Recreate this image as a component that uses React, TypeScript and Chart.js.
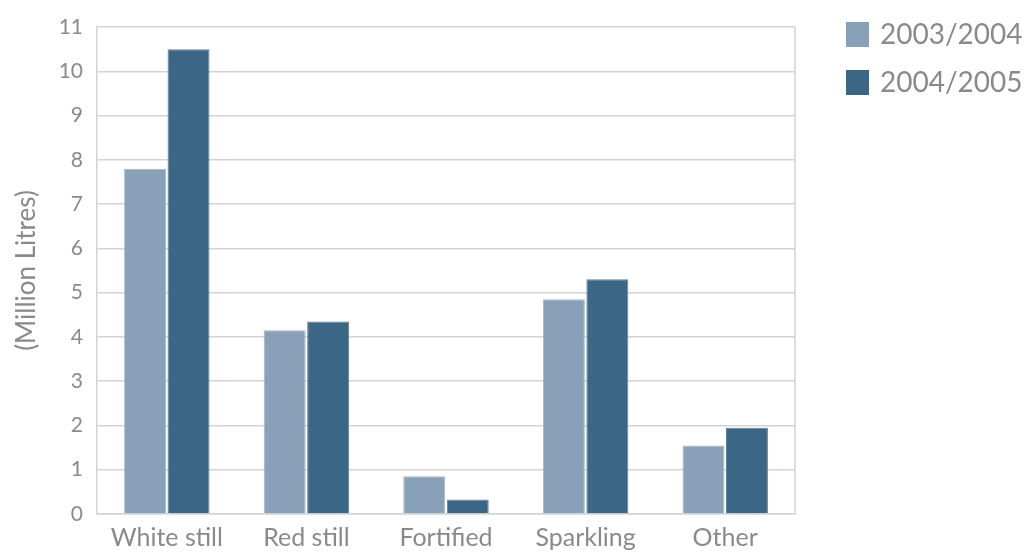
import React, { useEffect, useRef } from "react";
import { Chart, registerables, Plugin } from "chart.js";

Chart.register(...registerables);

const categories = ["White still", "Red still", "Fortified", "Sparkling", "Other"];
const seriesLabels = ["2003/2004", "2004/2005"];
const values0304 = [7.8, 4.15, 0.85, 4.85, 1.55];
const values0405 = [10.5, 4.35, 0.33, 5.3, 1.95];
const yTicks = [0, 1, 2, 3, 4, 5, 6, 7, 8, 9, 10, 11];

const FONT = "Lato, 'Open Sans', sans-serif";
const TEXT = "#8a8a8a";
const GRID = "#d3d3d3";
const LIGHT = "#88a1b8";
const DARK = "#3b6685";

// Right-hand border of the plot frame and the side legend.
const framePlugin: Plugin<"bar"> = {
  id: "frameAndLegend",
  afterDraw(chart) {
    const { ctx, chartArea } = chart;
    ctx.save();
    ctx.strokeStyle = GRID;
    ctx.lineWidth = 1.5;
    ctx.beginPath();
    ctx.moveTo(chartArea.right, chartArea.top);
    ctx.lineTo(chartArea.right, chartArea.bottom);
    ctx.stroke();

    const boxX = chartArea.right + 51;
    chart.data.datasets.forEach((ds, i) => {
      const top = chartArea.top - 5 + i * 48;
      ctx.fillStyle = ds.backgroundColor as string;
      ctx.fillRect(boxX, top, 23, 25);
      ctx.fillStyle = TEXT;
      ctx.font = `28px ${FONT}`;
      ctx.textBaseline = "middle";
      ctx.textAlign = "left";
      ctx.fillText(String(ds.label), boxX + 34, top + 13);
    });
    ctx.restore();
  },
};

export default function App() {
  const canvasRef = useRef<HTMLCanvasElement>(null);

  useEffect(() => {
    if (!canvasRef.current) return;
    const chart = new Chart(canvasRef.current, {
      type: "bar",
      data: {
        labels: categories,
        datasets: [
          {
            label: seriesLabels[0],
            data: values0304,
            backgroundColor: LIGHT,
            borderColor: "#a3b7c9",
            borderWidth: 1,
          },
          {
            label: seriesLabels[1],
            data: values0405,
            backgroundColor: DARK,
            borderColor: "#5f7f98",
            borderWidth: 1,
          },
        ],
      },
      options: {
        animation: false,
        responsive: true,
        maintainAspectRatio: false,
        layout: { padding: { top: 27, right: 235, left: 0, bottom: 0 } },
        datasets: { bar: { categoryPercentage: 0.623, barPercentage: 0.965 } },
        plugins: {
          legend: { display: false },
          tooltip: { enabled: false },
        },
        scales: {
          x: {
            grid: { display: false, drawTicks: false },
            border: { display: true, color: GRID, width: 1.5 },
            ticks: {
              color: TEXT,
              font: { family: FONT, size: 25 },
              padding: 9,
              maxRotation: 0,
            },
            afterFit: (axis) => {
              axis.height = 42;
            },
          },
          y: {
            min: 0,
            max: 11,
            afterBuildTicks: (axis) => {
              axis.ticks = yTicks.map((v) => ({ value: v }));
            },
            grid: { color: GRID, lineWidth: 1.5, drawTicks: false },
            border: { display: true, color: GRID, width: 1.5 },
            ticks: {
              color: TEXT,
              font: { family: FONT, size: 21 },
              padding: 14,
            },
            title: {
              display: true,
              text: "(Million Litres)",
              color: TEXT,
              font: { family: FONT, size: 26 },
              padding: { top: 11, bottom: 0 },
            },
            afterFit: (axis) => {
              axis.width = 97;
            },
          },
        },
      },
      plugins: [framePlugin],
    });
    return () => chart.destroy();
  }, []);

  return (
    <div style={{ position: "fixed", left: 0, top: 0, width: 1030, height: 556, background: "#fff" }}>
      <canvas ref={canvasRef} />
    </div>
  );
}
